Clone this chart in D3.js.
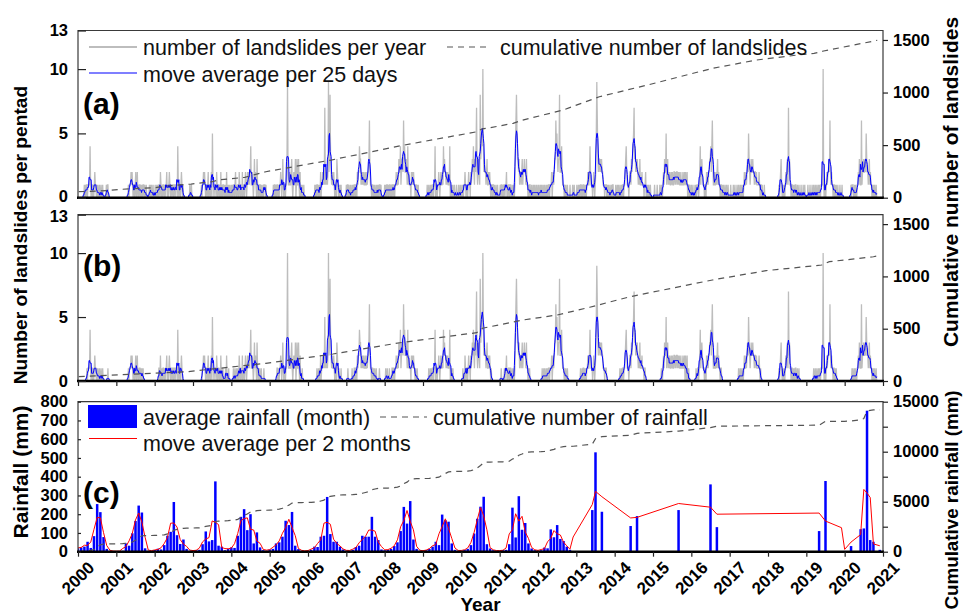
<!DOCTYPE html>
<html>
<head>
<meta charset="utf-8">
<script src="https://cdn.jsdelivr.net/npm/d3@7"></script>
<style>
  body { margin: 0; background: #fff; }
  svg { display: block; }
  text { font-family: "Liberation Sans", Arial, Helvetica, sans-serif; }
</style>
</head>
<body>
<svg id="chart" width="964" height="616"></svg>
<script>
// ---------- data ----------
const years = d3.range(2000, 2021);

// Landslides per pentad, one string per year (73 pentads, grouped roughly by month).
// Hex digits so that 'a' = 10.
const pentadsAll = [
  "000000 000000 101011 011114 101101 012110 101001 001001 000000 101100 000000 000000 0",
  "000000 000000 000000 000001 011121 210110 120120 101101 010110 100100 000101 010010 0",
  "010010 101102 101011 010112 010121 011011 011011 104101 101210 100000 000000 010010 0",
  "000000 000000 000010 112121 011012 011012 051101 110210 110102 010110 101020 101010 0",
  "101011 012010 110210 110201 101210 121212 241121 013121 031010 110100 101110 100000 0",
  "000000 010110 101101 011210 131011 011392 112112 310121 130131 131020 101001 000000 0",
  "000000 000000 010101 101010 201121 217121 212923 832121 121011 032101 010100 000000 0",
  "101101 001001 010110 110212 243312 121211 211212 236211 011010 100101 010110 100000 0",
  "101011 010110 101101 101121 121322 412332 634223 214121 110212 121101 101010 000000 0",
  "000000 001001 001010 110114 011011 210121 121423 221212 111401 010100 100010 001001 0",
  "010101 121011 012110 212324 213247 212321 83454a 423221 231121 210110 110100 100100 0",
  "010110 101101 120101 101100 100101 468533 231221 231223 221311 010110 010010 100101 0",
  "010010 101001 010010 101101 112012 123364 532338 222421 110101 001000 010000 100100 0",
  "010010 101101 011010 101121 124211 101210 125963 233232 322111 011101 010010 010110 0",
  "001001 010010 010110 112342 111012 213234 573423 232121 311121 110112 010101 001000 0",
  "000100 001000 010010 012132 251231 212112 121122 121221 212112 111211 212112 011010 0",
  "100100 010101 110124 123211 101102 121223 342463 112112 123121 101101 010010 010010 0",
  "001000 010010 001001 001010 010121 121232 532123 223221 221211 112101 101000 100000 0",
  "000000 000000 000000 000101 231001 010121 231723 110110 101011 001001 000100 010010 0",
  "000100 010001 001001 001001 010011 11a101 101212 232621 211011 010100 100010 001000 0",
  "000000 000000 101110 010100 112132 116122 322325 322123 121101 010100 10"
];

const pentadsRain = [
  "000000 000000 000001 011114 101101 012110 101001 001001 000000 000100 000000 000000 0",
  "000000 000000 000000 000001 011121 210110 120120 101101 010100 000000 000000 000000 0",
  "000000 001102 001011 010112 010121 011011 011011 104101 101210 000000 000000 000000 0",
  "000000 000000 000000 112121 011012 011012 051101 110210 110102 010100 001020 001000 0",
  "000010 010010 100210 110201 101210 121212 241121 013121 031010 100100 001000 000000 0",
  "000000 000000 001101 011210 131011 0113a2 112112 310121 130131 131020 001000 000000 0",
  "000000 000000 000001 001010 201121 215121 212a23 832121 121011 032101 000100 000000 0",
  "000100 000001 000110 110212 243312 121211 211212 236211 011010 100100 000100 000000 0",
  "001001 000100 001101 101121 121322 412332 634223 214121 110212 121101 001000 000000 0",
  "000000 000001 001010 110114 011011 210121 121423 221212 111401 010100 000000 000000 0",
  "000100 021011 012110 212324 213247 212321 83454a 423221 231121 210100 000000 000000 0",
  "000100 000101 120101 101100 100101 468533 231221 231223 221311 010100 000000 000000 0",
  "000000 001001 010010 101101 112012 123364 532338 222421 110101 001000 000000 000000 0",
  "000000 001001 011010 101121 124211 101210 125963 233232 322111 011100 000000 000000 0",
  "000000 000010 010110 112342 111012 213234 573423 232121 311121 110110 000000 000000 0",
  "000000 000000 000010 012132 251231 212112 121122 121221 212112 111211 202102 001000 0",
  "000000 000100 110124 123211 101102 121223 342463 112112 123121 101100 000000 000000 0",
  "000000 000000 000001 001010 010121 121232 532123 223221 221211 112101 000000 000000 0",
  "000000 000000 000000 000101 231001 010121 231723 110110 101011 001001 000000 000000 0",
  "000000 000000 001001 001001 010011 11a101 101212 232621 211011 010100 000000 000000 0",
  "000000 000000 001010 010100 112132 116122 322325 322123 121101 010100 10"
];

// Cumulative number of landslides, [year, count]
const cumAll = [
  [2000.02, 57], [2000.75, 67], [2001.15, 80], [2002.0, 95], [2002.3, 111],
  [2002.95, 130], [2003.5, 152], [2003.65, 168], [2004.35, 194], [2004.9, 247],
  [2006.6, 358], [2008.5, 500], [2010.4, 627], [2010.55, 655], [2010.75, 665],
  [2011.35, 707], [2011.6, 738], [2012.65, 833], [2013.6, 960], [2014.85, 1071],
  [2016.55, 1230], [2017.7, 1309], [2018.75, 1356], [2019.2, 1372], [2019.45, 1395],
  [2020.75, 1489], [2020.85, 1497]
];
const cumRain = [
  [2000.02, 41], [2002.85, 89], [2004.9, 169], [2006.65, 258], [2008.4, 366],
  [2010.4, 462], [2010.55, 504], [2011.6, 583], [2012.5, 631], [2013.35, 705],
  [2014.4, 806], [2016.55, 966], [2017.95, 1055], [2019.4, 1109], [2019.6, 1141],
  [2020.75, 1188], [2020.85, 1195]
];

// Average monthly rainfall (mm), Jan..Dec, 2000-2012
const rainYears = d3.range(2000, 2013);
const rainMonthly = [
  [18, 23, 27, 53, 20, 83, 254, 211, 78, 15, 5, 3],
  [2, 3, 5, 44, 32, 98, 164, 246, 209, 18, 5, 3],
  [9, 16, 12, 35, 85, 106, 265, 88, 41, 65, 15, 5],
  [5, 8, 10, 40, 108, 55, 62, 375, 32, 27, 8, 15],
  [23, 20, 85, 186, 227, 115, 200, 44, 103, 23, 8, 5],
  [12, 15, 44, 50, 80, 165, 142, 212, 32, 14, 5, 3],
  [5, 10, 27, 25, 80, 85, 292, 94, 53, 53, 27, 12],
  [5, 5, 10, 25, 32, 85, 80, 80, 186, 80, 62, 12],
  [8, 10, 15, 30, 50, 110, 239, 150, 270, 65, 15, 5],
  [3, 8, 15, 27, 53, 35, 198, 168, 160, 44, 10, 5],
  [5, 10, 15, 35, 97, 176, 240, 293, 40, 17, 8, 5],
  [5, 8, 10, 40, 235, 76, 296, 117, 153, 44, 17, 8],
  [5, 8, 22, 18, 119, 77, 142, 68, 57, 27, 10, 3]
];
// Months with records after 2012: [year, month index, rainfall]
const rainSparse = [
  [2013, 5, 222], [2013, 6, 530], [2013, 8, 213],
  [2014, 5, 137], [2014, 7, 190],
  [2015, 8, 222],
  [2016, 6, 359], [2016, 8, 131],
  [2019, 4, 110], [2019, 6, 377], [2019, 11, 3],
  [2020, 0, 4], [2020, 2, 30], [2020, 5, 120], [2020, 6, 124], [2020, 7, 752],
  [2020, 8, 62], [2020, 9, 53], [2020, 11, 10]
];

const yearTicks = d3.range(2000, 2022);
const landTicks = [0, 5, 10, 13];
const cumLandTicks = [0, 500, 1000, 1500];
const rainTicks = d3.range(0, 801, 100);
const cumRainTicks = [0, 5000, 10000, 15000];
const cumRainMinor = d3.range(0, 15001, 2500);

// ---------- helpers ----------
const svg = d3.select("#chart");
const x = d3.scaleLinear().domain([2000, 2021]).range([78, 883]);
const X0 = 78, X1 = 883;
const plain = d3.format("d");

function parsePentads(rows) {
  const pts = [];
  rows.forEach((row, i) => {
    const s = row.replace(/\s+/g, "");
    const n = i < rows.length - 1 ? 73 : s.length;
    for (let p = 0; p < n; p++) {
      pts.push({ t: years[i] + p / 73, v: parseInt(s[p] || "0", 16) });
    }
  });
  return pts;
}
function movingAverage(pts, half) {
  return pts.map((d, i) => {
    const lo = Math.max(0, i - half), hi = Math.min(pts.length - 1, i + half);
    let s = 0;
    for (let k = lo; k <= hi; k++) s += pts[k].v;
    return { t: d.t, v: s / (hi - lo + 1) };
  });
}

const defs = svg.append("defs");
function clip(id, top, bottom) {
  defs.append("clipPath").attr("id", id)
    .append("rect").attr("x", X0).attr("y", top).attr("width", X1 - X0).attr("height", bottom - top);
  return "url(#" + id + ")";
}

function frame(top, bottom) {
  svg.append("path")
    .attr("d", `M${X0},${bottom}V${top}H${X1}V${bottom}`)
    .attr("fill", "none").attr("stroke", "#3a3a3a").attr("stroke-width", 1.2);
  svg.append("line").attr("x1", X0 - 1).attr("x2", X1 + 1).attr("y1", bottom).attr("y2", bottom)
    .attr("stroke", "#000").attr("stroke-width", 2.4);
}

function styleAxis(g, size) {
  g.select(".domain").remove();
  g.selectAll(".tick line").attr("stroke", "#222").attr("stroke-width", 1.2);
  g.selectAll(".tick text").attr("font-size", size).attr("font-weight", "bold")
    .attr("fill", "#000").style("font-family", '"Liberation Sans", Arial, sans-serif');
}

// ---------- landslide panels ----------
function landslidePanel(opts) {
  const { top, bottom, rows, cum, id, label, labelY, bottomTicks, nudge } = opts;
  const y = d3.scaleLinear().domain([0, 13]).range([bottom, top]);
  const yr = d3.scaleLinear().domain([0, 1590]).range([bottom, top]);
  const pts = parsePentads(rows);
  const ma = movingAverage(pts, 2);
  const g = svg.append("g").attr("clip-path", clip(id, top - 1, bottom + 1));

  g.append("path").datum(pts)
    .attr("d", d3.line().x(d => x(d.t)).y(d => y(d.v)))
    .attr("fill", "none").attr("stroke", "#bdbdbd").attr("stroke-width", 1.3);
  g.append("path").datum(ma)
    .attr("d", d3.line().x(d => x(d.t)).y(d => y(d.v)))
    .attr("fill", "none").attr("stroke", "#0000ff").attr("stroke-width", 1);
  g.append("path").datum(cum)
    .attr("d", d3.line().x(d => x(d[0])).y(d => yr(d[1])))
    .attr("fill", "none").attr("stroke", "#555").attr("stroke-width", 1.2)
    .attr("stroke-dasharray", "6,5");

  frame(top, bottom);

  const la = svg.append("g").attr("transform", `translate(${X0},0)`)
    .call(d3.axisLeft(y).tickValues(landTicks).tickSize(-8).tickPadding(10));
  styleAxis(la, 16.5);
  // keep the stacked "0" / "13" labels of neighbouring panels apart
  la.selectAll(".tick text").attr("dy", d => (nudge && nudge[d] !== undefined) ? nudge[d] : "0.32em");
  const ra = svg.append("g").attr("transform", `translate(${X1},0)`)
    .call(d3.axisRight(yr).tickValues(cumLandTicks).tickSize(5).tickPadding(5).tickFormat(plain));
  styleAxis(ra, 16.5);
  if (bottomTicks) {
    const ba = svg.append("g").attr("transform", `translate(0,${bottom})`)
      .call(d3.axisBottom(x).tickValues(yearTicks).tickSize(5).tickFormat(""));
    styleAxis(ba, 16.5);
  }
  svg.append("text").attr("x", 83).attr("y", labelY).text(label)
    .attr("font-size", 30).attr("font-weight", "bold");
}

landslidePanel({ top: 30.5, bottom: 197.7, rows: pentadsAll, cum: cumAll, id: "clipA",
  label: "(a)", labelY: 114, bottomTicks: false, nudge: { 0: "0.2em" } });
landslidePanel({ top: 214.7, bottom: 381, rows: pentadsRain, cum: cumRain, id: "clipB",
  label: "(b)", labelY: 276, bottomTicks: true, nudge: { 13: "0.42em" } });

// legend (a)
svg.append("line").attr("x1", 89).attr("x2", 137).attr("y1", 47).attr("y2", 47)
  .attr("stroke", "#bdbdbd").attr("stroke-width", 2);
svg.append("line").attr("x1", 89).attr("x2", 137).attr("y1", 73).attr("y2", 73)
  .attr("stroke", "#0000ff").attr("stroke-width", 1.2);
svg.append("line").attr("x1", 447).attr("x2", 488).attr("y1", 47).attr("y2", 47)
  .attr("stroke", "#555").attr("stroke-width", 1.2).attr("stroke-dasharray", "6,5");
[["number of landslides per year", 143, 54.5], ["move average per 25 days", 143, 81.5],
 ["cumulative number of landslides", 500, 54.5]].forEach(([t, lx, ly]) => {
  svg.append("text").attr("x", lx).attr("y", ly).text(t).attr("font-size", 21.5).attr("fill", "#111");
});

// ---------- rainfall panel ----------
(function rainfallPanel() {
  const top = 401.7, bottom = 551.7;
  const y = d3.scaleLinear().domain([0, 800]).range([bottom, top]);
  const yr = d3.scaleLinear().domain([0, 15000]).range([bottom, top]);
  const months = [];
  rainMonthly.forEach((vals, i) => vals.forEach((v, m) => months.push({ t: rainYears[i] + m / 12, v })));
  rainSparse.forEach(([yy, m, v]) => months.push({ t: yy + m / 12, v }));
  const ma = movingAverage(months, 1);
  let run = 0;
  const cum = months.map(d => ({ t: d.t, v: (run += d.v) }));

  const g = svg.append("g").attr("clip-path", clip("clipC", top - 1, bottom + 1));
  g.selectAll("rect.bar").data(months).join("rect").attr("class", "bar")
    .attr("x", d => x(d.t) - 1.25).attr("width", 2.5)
    .attr("y", d => y(d.v)).attr("height", d => bottom - y(d.v))
    .attr("fill", "#0000ff");
  g.append("path").datum(ma)
    .attr("d", d3.line().x(d => x(d.t)).y(d => y(d.v)))
    .attr("fill", "none").attr("stroke", "#ff0000").attr("stroke-width", 1);
  g.append("path").datum(cum)
    .attr("d", d3.line().x(d => x(d.t)).y(d => yr(d.v)))
    .attr("fill", "none").attr("stroke", "#555").attr("stroke-width", 1.2)
    .attr("stroke-dasharray", "6,5");

  frame(top, bottom);

  const la = svg.append("g").attr("transform", `translate(${X0},0)`)
    .call(d3.axisLeft(y).tickValues(rainTicks).tickSize(-3).tickPadding(10));
  styleAxis(la, 16.5);
  const ra = svg.append("g").attr("transform", `translate(${X1},0)`)
    .call(d3.axisRight(yr).tickValues(cumRainMinor).tickSize(5).tickPadding(5)
      .tickFormat(d => cumRainTicks.includes(d) ? plain(d) : ""));
  styleAxis(ra, 16.5);
  const ba = svg.append("g").attr("transform", `translate(0,${bottom})`)
    .call(d3.axisBottom(x).tickValues(yearTicks).tickSize(5).tickFormat(""));
  styleAxis(ba, 16.5);

  svg.append("g").selectAll("text").data(yearTicks).join("text")
    .attr("transform", d => `translate(${x(d) + 1},579) rotate(-45)`)
    .attr("text-anchor", "middle").attr("dominant-baseline", "middle")
    .attr("font-size", 17).attr("font-weight", "bold").text(d => d);

  svg.append("text").attr("x", 83).attr("y", 503).text("(c)")
    .attr("font-size", 30).attr("font-weight", "bold");

  // legend (c)
  svg.append("rect").attr("x", 88).attr("y", 405).attr("width", 49).attr("height", 23).attr("fill", "#0000ff");
  svg.append("line").attr("x1", 89).attr("x2", 137).attr("y1", 438.5).attr("y2", 438.5)
    .attr("stroke", "#ff0000").attr("stroke-width", 1.2);
  svg.append("line").attr("x1", 380).attr("x2", 427).attr("y1", 417).attr("y2", 417)
    .attr("stroke", "#555").attr("stroke-width", 1.2).attr("stroke-dasharray", "6,5");
  [["average rainfall (month)", 143, 425], ["move average per 2 months", 143, 451],
   ["cumulative number of rainfall", 433, 425]].forEach(([t, lx, ly]) => {
    svg.append("text").attr("x", lx).attr("y", ly).text(t).attr("font-size", 21.5).attr("fill", "#111");
  });
})();

// ---------- axis titles ----------
function vTitle(t, cx, cy, size) {
  svg.append("text").attr("transform", `translate(${cx},${cy}) rotate(-90)`)
    .attr("text-anchor", "middle").attr("font-size", size).attr("font-weight", "bold").text(t);
}
vTitle("Number of landslides per pentad", 27, 235, 19.2);
vTitle("Rainfall (mm)", 28, 472, 21);
vTitle("Cumulative number of landslides", 958, 182, 21);
vTitle("Cumulative rainfall (mm)", 958, 500, 18.8);
svg.append("text").attr("x", 480.5).attr("y", 611).attr("text-anchor", "middle")
  .attr("font-size", 19).attr("font-weight", "bold").text("Year");
</script>
</body>
</html>
